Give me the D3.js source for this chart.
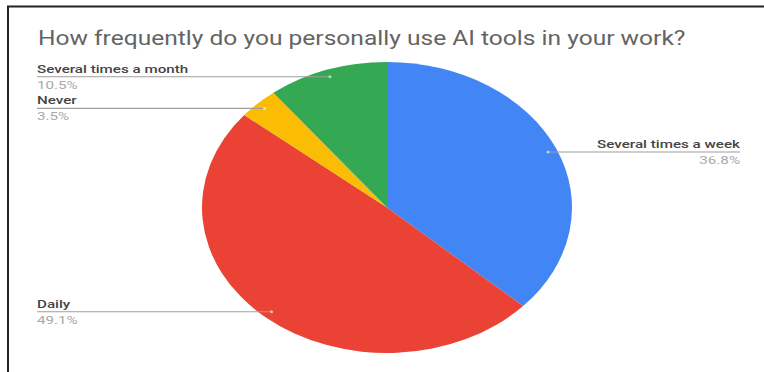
<!DOCTYPE html>
<html>
<head>
<meta charset="utf-8">
<script src="https://cdn.jsdelivr.net/npm/d3@7"></script>
<style>
  html, body { margin: 0; padding: 0; background: #fff; }
  svg { display: block; }
</style>
</head>
<body>
<svg id="chart" width="764" height="372"></svg>
<script>
const titleText = "How frequently do you personally use AI tools in your work?";
const categories = ["Several times a week", "Daily", "Never", "Several times a month"];
const counts = [21, 28, 2, 6];
const percentLabels = ["36.8%", "49.1%", "3.5%", "10.5%"];
const colors = ["#4285f4", "#ea4335", "#fbbc04", "#34a853"];

const W = 764, H = 372;
const cx = 387, cy = 207.5, rx = 185, ry = 145.5;
const leftX = 37, rightX = 740;

const svg = d3.select("#chart");

svg.append("rect").attr("width", W).attr("height", H).attr("fill", "#fff");

// frame
svg.append("path")
  .attr("d", `M8,${H} V6.5 H${W}`)
  .attr("fill", "none")
  .attr("stroke", "#222")
  .attr("stroke-width", 2);

// title
svg.append("text")
  .text(titleText)
  .attr("font-family", "Roboto, sans-serif")
  .attr("font-size", 21)
  .attr("fill", "#646464")
  .attr("transform", `translate(38,45) scale(1.17,1)`);

const pie = d3.pie().sort(null).value(d => d)(counts);
const arc = d3.arc().innerRadius(0).outerRadius(rx);

const g = svg.append("g").attr("transform", `translate(${cx},${cy}) scale(1,${ry / rx})`);
g.selectAll("path.slice")
  .data(pie)
  .join("path")
  .attr("class", "slice")
  .attr("d", arc)
  .attr("fill", (d, i) => colors[i]);

const f = 0.95;
const labelSX = 1.38;
pie.forEach((d, i) => {
  const a = (d.startAngle + d.endAngle) / 2;
  const px = cx + Math.sin(a) * rx * f;
  const py = cy - Math.cos(a) * ry * f;
  const left = a > Math.PI;
  const ex = left ? leftX : rightX;
  svg.append("line")
    .attr("x1", px).attr("y1", py)
    .attr("x2", ex).attr("y2", py)
    .attr("stroke", "#9e9e9e")
    .attr("stroke-width", 1.2);
  svg.append("circle")
    .attr("cx", px).attr("cy", py).attr("r", 1.6)
    .attr("fill", "#ffffff").attr("opacity", 0.55);
  const anchor = left ? "start" : "end";
  svg.append("text")
    .text(categories[i])
    .attr("text-anchor", anchor)
    .attr("font-family", "Roboto, sans-serif")
    .attr("font-size", 11)
    .attr("font-weight", 500)
    .attr("fill", "#444444")
    .attr("transform", `translate(${ex},${py - 4}) scale(${labelSX},1)`);
  svg.append("text")
    .text(percentLabels[i])
    .attr("text-anchor", anchor)
    .attr("font-family", "Roboto, sans-serif")
    .attr("font-size", 11)
    .attr("fill", "#a8a8a8")
    .attr("transform", `translate(${ex},${py + 12}) scale(${labelSX},1)`);
});
</script>
</body>
</html>
